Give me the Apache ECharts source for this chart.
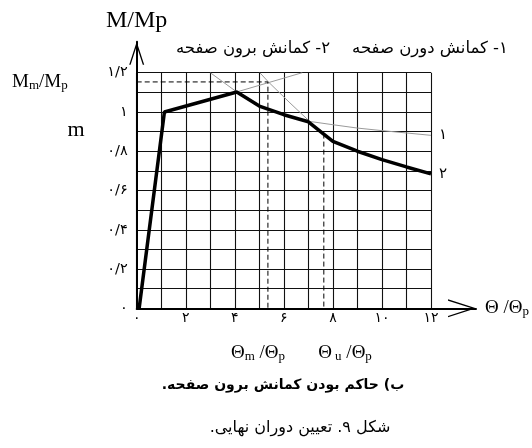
<!DOCTYPE html>
<html><head><meta charset="utf-8">
<script src="https://cdn.jsdelivr.net/npm/echarts@6/dist/echarts.min.js"></script>
<style>html,body{margin:0;padding:0;background:#fff}#c{width:532px;height:448px}</style>
</head><body>
<div id="c"></div>
<script>
// ---- data ----
const xTickLabels = ['۰','','۲','','۴','','۶','','۸','','۱۰','','۱۲'];
const yTickLabels = ['۰','','۰/۲','','۰/۴','','۰/۶','','۰/۸','','۱','','۱/۲'];
// curve 2 (out-of-plane buckling, thick)
const curve2X = [0.1, 1.13, 4.08, 5.0, 6.0, 7.0, 7.6, 8.0, 9.0, 10.0, 11.0, 12.0];
const curve2Y = [0, 1.0, 1.102, 1.03, 0.986, 0.95, 0.89, 0.85, 0.80, 0.757, 0.72, 0.685];
// curve 1 (in-plane buckling, thin)
const curve1X = [5.02, 5.37, 6.25, 7.05, 8, 9, 10, 11, 12];
const curve1Y = [1.2, 1.153, 1.046, 0.952, 0.935, 0.918, 0.905, 0.893, 0.881];
// thin construction lines
const hardenExtX = [4.08, 6.75], hardenExtY = [1.102, 1.2];
const softenExtX = [3.0, 4.08], softenExtY = [1.2, 1.102];
// dashed reference values
const thetaM = 5.35, mMax = 1.153;
const thetaU = 7.63, mU = 0.89;
const curveNames = ['۱', '۲'];
const legendTexts = ['۱- کمانش دورن صفحه', '۲- کمانش برون صفحه'];
const captionA = 'ب) حاکم بودن کمانش برون صفحه.';
const captionB = 'شکل ۹. تعیین دوران نهایی.';

const zip = (a, b) => a.map((v, i) => [v, b[i]]);
const rtl = s => '\u200F' + s + '\u200F';
const FA = 'DejaVu Sans';
const SERIF = 'Liberation Serif';

const chart = echarts.init(document.getElementById('c'), null, {renderer: 'canvas'});
const thin = {color: '#9a9a9a', width: 1};
const subRich = {
  n: {fontFamily: SERIF, fontSize: 19, color: '#000', lineHeight: 20},
  s: {fontFamily: SERIF, fontSize: 13, color: '#000', lineHeight: 12, verticalAlign: 'bottom', padding: [14, 0, 0, 0]}
};
chart.setOption({
  animation: false,
  backgroundColor: '#fff',
  grid: [
    {left: 136.7, top: 72.7, width: 294.3, height: 235.6},
    {left: 136.7, top: 41.7, width: 343.3, height: 266.6}
  ],
  xAxis: [
    {gridIndex: 0, type: 'value', min: 0, max: 12, interval: 1,
     axisLine: {show: false}, axisTick: {show: false},
     axisLabel: {margin: 3, fontFamily: FA, fontSize: 14, color: '#000',
       formatter: v => xTickLabels[Math.round(v)] || ''},
     splitLine: {show: true, lineStyle: {color: '#111', width: 1.1}}},
    {gridIndex: 1, type: 'value', min: 0, max: 1,
     axisLine: {show: true, onZero: false, lineStyle: {color: '#000', width: 2},
       symbol: ['none', 'path://M0,28 L9,0 L18,28 L16.6,28 L9,4.3 L1.4,28 Z'],
       symbolSize: [18, 28], symbolOffset: [0, -14]},
     axisTick: {show: false}, axisLabel: {show: false}, splitLine: {show: false},
     name: '{n|Θ /Θ}{s|p}', nameLocation: 'end', nameGap: 9,
     nameTextStyle: {rich: subRich}}
  ],
  yAxis: [
    {gridIndex: 0, type: 'value', min: 0, max: 1.2, interval: 0.1,
     axisLine: {show: false}, axisTick: {show: false},
     axisLabel: {margin: 9, fontFamily: FA, fontSize: 14.5, color: '#000',
       formatter: v => yTickLabels[Math.round(v * 10)] || ''},
     splitLine: {show: true, lineStyle: {color: '#111', width: 1.1}}},
    {gridIndex: 1, type: 'value', min: 0, max: 1,
     axisLine: {show: true, onZero: false, lineStyle: {color: '#000', width: 2},
       symbol: ['none', 'path://M0,23 L7.5,0 L15,23 L13.6,23 L7.5,4.3 L1.4,23 Z'],
       symbolSize: [15, 23], symbolOffset: [0, -11.5]},
     axisTick: {show: false}, axisLabel: {show: false}, splitLine: {show: false},
     name: 'M/Mp', nameLocation: 'end', nameGap: 9,
     nameTextStyle: {fontFamily: SERIF, fontSize: 24, color: '#000'}}
  ],
  series: [
    {type: 'line', xAxisIndex: 0, yAxisIndex: 0, data: zip(hardenExtX, hardenExtY),
     symbol: 'none', lineStyle: thin, z: 2},
    {type: 'line', xAxisIndex: 0, yAxisIndex: 0, data: zip(softenExtX, softenExtY),
     symbol: 'none', lineStyle: thin, z: 2},
    {type: 'line', xAxisIndex: 0, yAxisIndex: 0, data: zip(curve1X, curve1Y),
     symbol: 'none', lineStyle: thin, z: 2,
     endLabel: {show: true, formatter: curveNames[0], distance: 8,
       fontFamily: FA, fontSize: 15, color: '#000'}},
    {type: 'line', xAxisIndex: 0, yAxisIndex: 0,
     data: [[0, mMax], [thetaM, mMax], [thetaM, 0]],
     symbol: 'none', lineStyle: {color: '#000', width: 1, type: [5, 3]}, z: 3},
    {type: 'line', xAxisIndex: 0, yAxisIndex: 0,
     data: [[thetaU, mU], [thetaU, 0]],
     symbol: 'none', lineStyle: {color: '#000', width: 1, type: [5, 3]}, z: 3},
    {type: 'line', xAxisIndex: 0, yAxisIndex: 0, data: zip(curve2X, curve2Y),
     symbol: 'none', lineStyle: {color: '#000', width: 3.5}, z: 5,
     endLabel: {show: true, formatter: curveNames[1], distance: 8,
       fontFamily: FA, fontSize: 15, color: '#000'}}
  ],
  graphic: [
    {type: 'text', x: 430, y: 49, style: {text: rtl(legendTexts[0]), font: '16.5px "DejaVu Sans"', fill: '#000', textAlign: 'center', textVerticalAlign: 'middle'}},
    {type: 'text', x: 253, y: 49, style: {text: rtl(legendTexts[1]), font: '16.5px "DejaVu Sans"', fill: '#000', textAlign: 'center', textVerticalAlign: 'middle'}},
    {type: 'text', x: 12, y: 72, style: {text: '{n|M}{s|m}{n|/M}{s|p}', rich: subRich, textAlign: 'left', textVerticalAlign: 'top'}},
    {type: 'text', x: 76, y: 130, style: {text: 'm', font: '22px "Liberation Serif"', fill: '#000', textAlign: 'center', textVerticalAlign: 'middle'}},
    {type: 'text', x: 258, y: 343, style: {text: '{n|Θ}{s|m}{n| /Θ}{s|p}', rich: subRich, textAlign: 'center', textVerticalAlign: 'top'}},
    {type: 'text', x: 345, y: 343, style: {text: '{n|Θ}{s| u}{n| /Θ}{s|p}', rich: subRich, textAlign: 'center', textVerticalAlign: 'top'}},
    {type: 'text', x: 283, y: 385, style: {text: rtl(captionA), font: 'bold 14px "DejaVu Sans"', fill: '#000', textAlign: 'center', textVerticalAlign: 'middle'}},
    {type: 'text', x: 300, y: 428, style: {text: rtl(captionB), font: '16px "DejaVu Sans"', fill: '#000', textAlign: 'center', textVerticalAlign: 'middle'}}
  ]
});
</script>
</body></html>
